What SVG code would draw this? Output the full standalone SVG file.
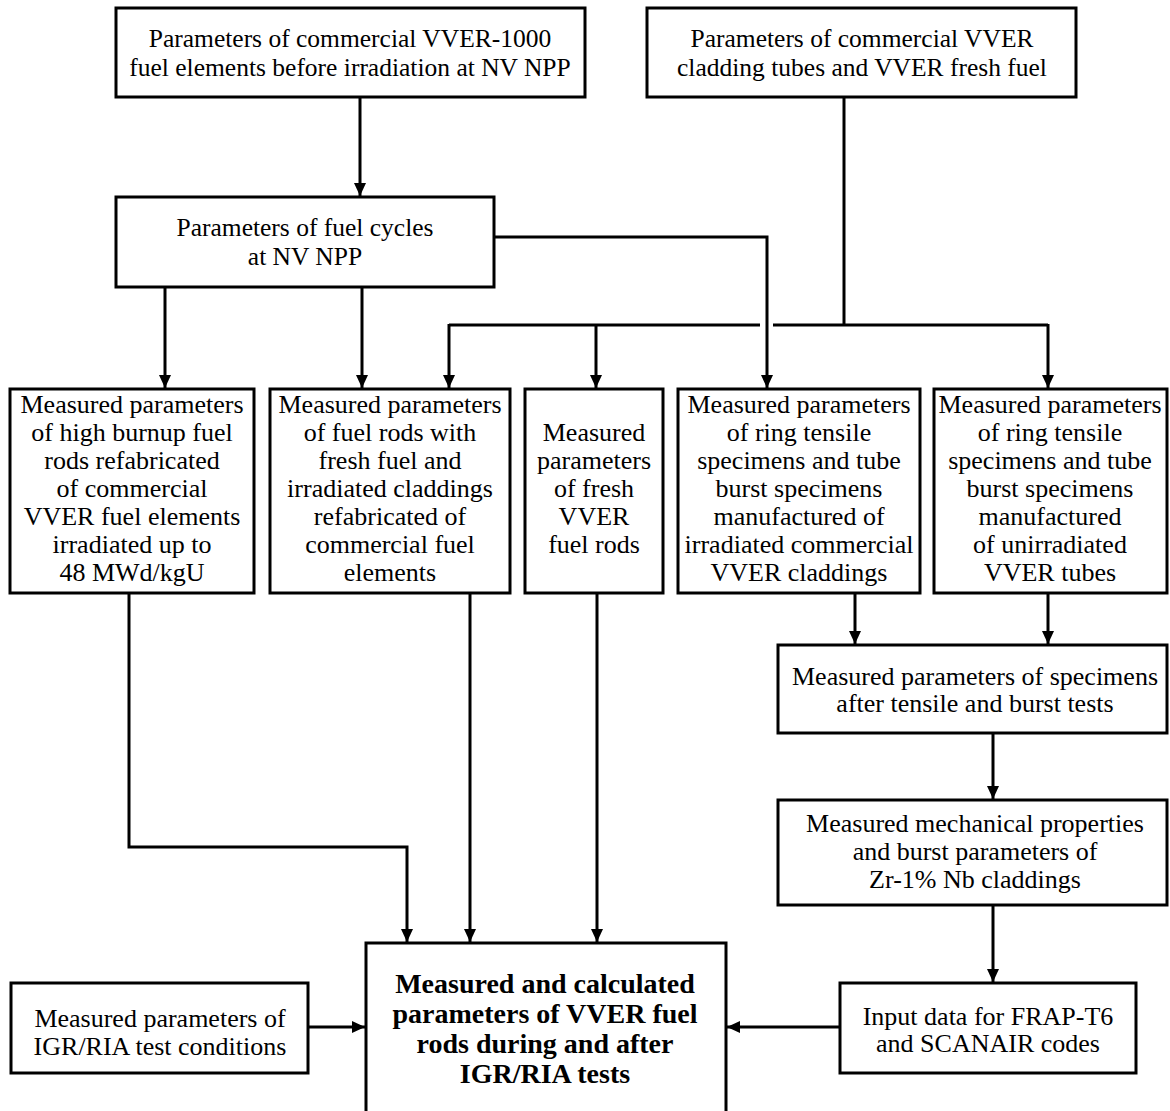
<svg xmlns="http://www.w3.org/2000/svg" width="1170" height="1111" viewBox="0 0 1170 1111">
<style>
  .box { fill: #fff; stroke: #000; stroke-width: 3; }
  .t { font-family: "Liberation Serif", "Times New Roman", serif; font-size: 26px; fill: #000; text-anchor: middle; }
  .tt { font-size: 25.5px; }
  .b { font-weight: bold; font-size: 28px; }
  .c { fill: none; stroke: #000; stroke-width: 3; }
  .a { marker-end: url(#arr); }
</style>
<defs>
  <marker id="arr" markerUnits="userSpaceOnUse" markerWidth="14" markerHeight="14" refX="13" refY="7" orient="auto">
    <path d="M0,1 L13,7 L0,13 Z" fill="#000"/>
  </marker>
</defs>
<rect width="1170" height="1111" fill="#fff"/>

<g id="connectors">
  <path class="c a" d="M360,97 V196"/>
  <path class="c a" d="M165,287 V388"/>
  <path class="c a" d="M362,287 V388"/>
  <path class="c a" d="M494,237 H767 V388"/>
  <path class="c" d="M844,97 V325"/>
  <path class="c" d="M449,325 H760"/>
  <path class="c" d="M773,325 H1048"/>
  <path class="c a" d="M449,324 V388"/>
  <path class="c a" d="M596,325 V388"/>
  <path class="c a" d="M1048,324 V388"/>
  <path class="c a" d="M855,593 V644"/>
  <path class="c a" d="M1048,593 V644"/>
  <path class="c a" d="M993,733 V799"/>
  <path class="c a" d="M993,905 V982"/>
  <path class="c a" d="M840,1027 H727"/>
  <path class="c a" d="M308,1027 H365"/>
  <path class="c a" d="M129,593 V847 H407 V942"/>
  <path class="c a" d="M470,593 V942"/>
  <path class="c a" d="M597,593 V942"/>
</g>

<g id="n_before">
  <rect class="box" x="116" y="8" width="469" height="89"/>
  <text class="t tt" x="350" y="47">Parameters of commercial VVER-1000</text>
  <text class="t tt" x="350" y="76">fuel elements before irradiation at NV NPP</text>
</g>
<g id="n_cladding">
  <rect class="box" x="647" y="8" width="429" height="89"/>
  <text class="t tt" x="862" y="47">Parameters of commercial VVER</text>
  <text class="t tt" x="862" y="76">cladding tubes and VVER fresh fuel</text>
</g>
<g id="n_cycles">
  <rect class="box" x="116" y="197" width="378" height="90"/>
  <text class="t tt" x="305" y="236">Parameters of fuel cycles</text>
  <text class="t tt" x="305" y="265">at NV NPP</text>
</g>

<g id="n_highburnup">
  <rect class="box" x="10" y="389" width="244" height="204"/>
  <text class="t" x="132" y="413">Measured parameters</text>
  <text class="t" x="132" y="441">of high burnup fuel</text>
  <text class="t" x="132" y="469">rods refabricated</text>
  <text class="t" x="132" y="497">of commercial</text>
  <text class="t" x="132" y="525">VVER fuel elements</text>
  <text class="t" x="132" y="553">irradiated up to</text>
  <text class="t" x="132" y="581">48 MWd/kgU</text>
</g>
<g id="n_freshfuel_irrclad">
  <rect class="box" x="270" y="389" width="240" height="204"/>
  <text class="t" x="390" y="413">Measured parameters</text>
  <text class="t" x="390" y="441">of fuel rods with</text>
  <text class="t" x="390" y="469">fresh fuel and</text>
  <text class="t" x="390" y="497">irradiated claddings</text>
  <text class="t" x="390" y="525">refabricated of</text>
  <text class="t" x="390" y="553">commercial fuel</text>
  <text class="t" x="390" y="581">elements</text>
</g>
<g id="n_fresh">
  <rect class="box" x="525" y="389" width="138" height="204"/>
  <text class="t" x="594" y="441">Measured</text>
  <text class="t" x="594" y="469">parameters</text>
  <text class="t" x="594" y="497">of fresh</text>
  <text class="t" x="594" y="525">VVER</text>
  <text class="t" x="594" y="553">fuel rods</text>
</g>
<g id="n_irr_specimens">
  <rect class="box" x="678" y="389" width="242" height="204"/>
  <text class="t" x="799" y="413">Measured parameters</text>
  <text class="t" x="799" y="441">of ring tensile</text>
  <text class="t" x="799" y="469">specimens and tube</text>
  <text class="t" x="799" y="497">burst specimens</text>
  <text class="t" x="799" y="525">manufactured of</text>
  <text class="t" x="799" y="553">irradiated commercial</text>
  <text class="t" x="799" y="581">VVER claddings</text>
</g>
<g id="n_unirr_specimens">
  <rect class="box" x="934" y="389" width="233" height="204"/>
  <text class="t" x="1050" y="413">Measured parameters</text>
  <text class="t" x="1050" y="441">of ring tensile</text>
  <text class="t" x="1050" y="469">specimens and tube</text>
  <text class="t" x="1050" y="497">burst specimens</text>
  <text class="t" x="1050" y="525">manufactured</text>
  <text class="t" x="1050" y="553">of unirradiated</text>
  <text class="t" x="1050" y="581">VVER tubes</text>
</g>

<g id="n_after_tests">
  <rect class="box" x="778" y="645" width="389" height="88"/>
  <text class="t" x="975" y="685">Measured parameters of specimens</text>
  <text class="t" x="975" y="712">after tensile and burst tests</text>
</g>
<g id="n_mech">
  <rect class="box" x="778" y="800" width="389" height="105"/>
  <text class="t" x="975" y="832">Measured mechanical properties</text>
  <text class="t" x="975" y="860">and burst parameters of</text>
  <text class="t" x="975" y="888">Zr-1% Nb claddings</text>
</g>
<g id="n_input">
  <rect class="box" x="840" y="983" width="296" height="90"/>
  <text class="t" x="988" y="1025">Input data for FRAP-T6</text>
  <text class="t" x="988" y="1052">and SCANAIR codes</text>
</g>
<g id="n_igr_conditions">
  <rect class="box" x="11" y="983" width="297" height="90"/>
  <text class="t" x="160" y="1027">Measured parameters of</text>
  <text class="t" x="160" y="1055">IGR/RIA test conditions</text>
</g>
<g id="n_result">
  <rect class="box" x="366" y="943" width="360" height="190"/>
  <text class="t b" x="545" y="993">Measured and calculated</text>
  <text class="t b" x="545" y="1023">parameters of VVER fuel</text>
  <text class="t b" x="545" y="1053">rods during and after</text>
  <text class="t b" x="545" y="1083">IGR/RIA tests</text>
</g>
</svg>
